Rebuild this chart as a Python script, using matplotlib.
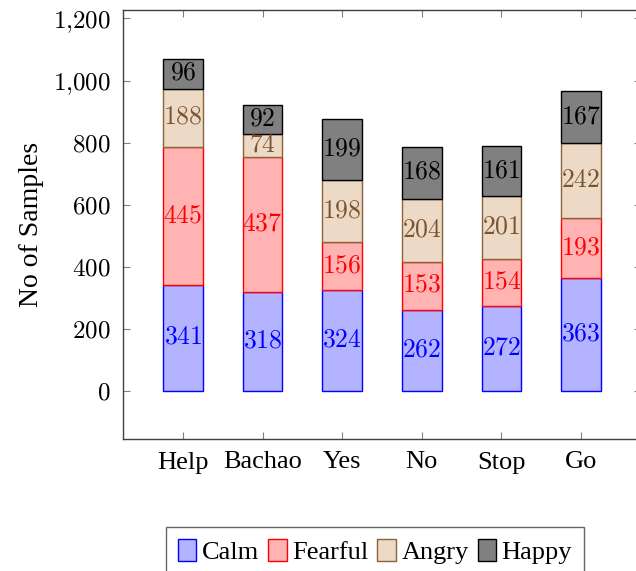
import numpy as np
import matplotlib
matplotlib.use("Agg")
import matplotlib.pyplot as plt
from matplotlib.ticker import FuncFormatter

plt.rcParams["mathtext.fontset"] = "cm"
plt.rcParams["font.family"] = ["Liberation Serif", "DejaVu Serif"]

categories = ["Help", "Bachao", "Yes", "No", "Stop", "Go"]
calm = [341, 318, 324, 262, 272, 363]
fearful = [445, 437, 156, 153, 154, 193]
angry = [188, 74, 198, 204, 201, 242]
happy = [96, 92, 199, 168, 161, 167]

series = [
    ("Calm", calm, "#b3b3ff", "#0000ff", "#0000ff"),
    ("Fearful", fearful, "#ffb3b3", "#ff0000", "#ff0000"),
    ("Angry", angry, "#ecd9c6", "#8c6239", "#7a5430"),
    ("Happy", happy, "#808080", "#000000", "#000000"),
]

fig = plt.figure(figsize=(6.36, 5.71), dpi=100)
W, H = 636, 571
ax = fig.add_axes([123 / W, 1 - 439 / H, (641 - 123) / W, (439 - 9.5) / H])

x = np.arange(len(categories))
bottom = np.zeros(len(categories))
handles = []
for name, vals, fc, ec, tc in series:
    vals = np.array(vals)
    b = ax.bar(x, vals, 0.5, bottom=bottom, color=fc, edgecolor=ec, linewidth=1.0, label=name)
    handles.append(b)
    for xi, v, b0 in zip(x, vals, bottom):
        ax.text(xi, b0 + v / 2, f"${v}$", ha="center", va="center", color=tc, fontsize=18.5)
    bottom = bottom + vals

ax.set_xlim(-0.753, 5.753)
ax.set_ylim(-155, 1229)
ax.set_yticks(range(0, 1201, 200))
ax.yaxis.set_major_formatter(FuncFormatter(lambda v, p: "$" + f"{int(v):,}".replace(",", "{,}") + "$"))
ax.set_xticks(x)
ax.set_xticklabels(categories, fontsize=19)
ax.tick_params(axis="y", labelsize=18, pad=9)
ax.tick_params(direction="in", top=True, right=True, length=5, color="#808080", width=0.8)
ax.tick_params(axis="x", pad=9)
for s in ax.spines.values():
    s.set_color("#404040")
    s.set_linewidth(1.0)

ax.set_ylabel("No of Samples", fontsize=20, labelpad=6)

leg = fig.legend(handles=handles, loc="upper center", bbox_to_anchor=(375 / W, 1 - 527 / H),
                 ncol=4, fontsize=19, frameon=True, fancybox=False, edgecolor="#404040",
                 handlelength=0.7, handleheight=0.9, handletextpad=0.2, columnspacing=0.35,
                 borderpad=0.45, borderaxespad=0)
leg.get_frame().set_linewidth(1.0)

fig.savefig("out.png", dpi=100)
